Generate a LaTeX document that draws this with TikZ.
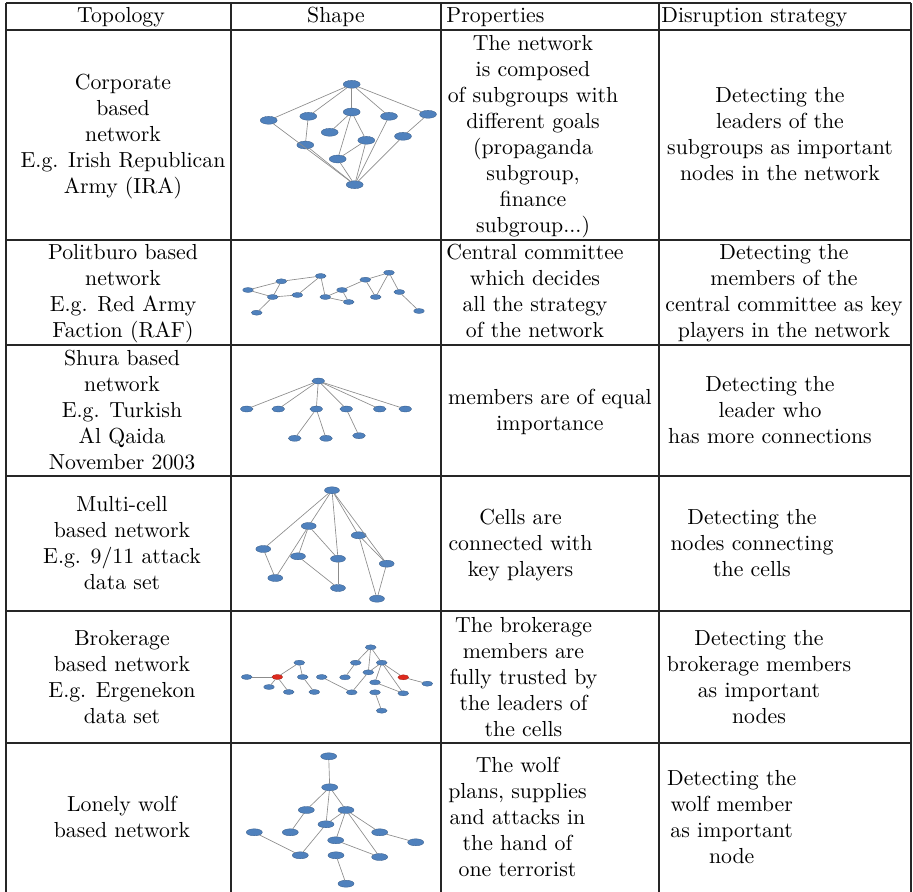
\documentclass[tikz,border=0pt]{standalone}
\usetikzlibrary{shapes.geometric}
\definecolor{nblue}{RGB}{79,129,189}
\definecolor{nbord}{RGB}{56,93,138}
\definecolor{nred}{RGB}{222,42,30}
\definecolor{rbord}{RGB}{160,30,20}
\begin{document}
\begin{tikzpicture}[x=0.4545pt,y=-0.4545pt,
  tline/.style={line width=0.5pt, draw=black!85},
  edge/.style={draw=black!45, line width=0.3pt},
  nd/.style={ellipse, fill=nblue, draw=nbord, line width=0.15pt, inner sep=0pt, outer sep=0pt},
  rd/.style={fill=nred, draw=rbord},
  sa/.style={nd, minimum width=7.7pt, minimum height=3.6pt},
  sb/.style={nd, minimum width=4.9pt, minimum height=2.3pt},
  sc/.style={nd, minimum width=5.8pt, minimum height=2.7pt},
  sd/.style={nd, minimum width=6.8pt, minimum height=3.2pt},
  se/.style={nd, minimum width=7.3pt, minimum height=3.2pt},
  txt/.style={align=center, font=\fontsize{9.9}{11.85}\selectfont, inner sep=0pt},
  hdr/.style={font=\fontsize{9.9}{11.85}\selectfont, inner sep=0pt}]
\useasboundingbox (0,0) rectangle (913,892);
% table rules
\foreach \yy in {3,30,240,345,476,611,743} \draw[tline] (6,\yy) -- (911,\yy);
\foreach \xx in {6,231,441,659,911} \draw[tline] (\xx,3) -- (\xx,892);
% header
\node[hdr, anchor=base] (h1) at (121,22) {Topology};
\node[hdr, anchor=base] (h2) at (336,22) {Shape};
\node[hdr, anchor=base west] (h3) at (446,22) {Properties};
\node[hdr, anchor=base west] (h4) at (661,22) {Disruption strategy};
% row 1
\node[txt] (t11) at (123,136.5) {\strut Corporate\\based\\network\\E.g. Irish Republican\\Army (IRA)\strut};
\node[txt] (t13) at (533,136.5) {\strut The network\\is composed\\of subgroups with\\different goals\\(propaganda\\subgroup,\\finance\\subgroup...)\strut};
\node[txt] (t14) at (780,136.5) {\strut Detecting the\\leaders of the\\subgroups as important\\nodes in the network\strut};
% row 2
\node[txt] (t21) at (123,293.5) {\strut Politburo based\\network\\E.g. Red Army\\Faction (RAF)\strut};
\node[txt] (t23) at (535,293.5) {\strut Central committee\\which decides\\all the strategy\\of the network\strut};
\node[txt] (t24) at (784,293.5) {\strut Detecting the\\members of the\\central committee as key\\players in the network\strut};
% row 3
\node[txt] (t31) at (122,412.5) {\strut Shura based\\network\\E.g. Turkish\\Al Qaida\\November 2003\strut};
\node[txt] (t33) at (550,412.5) {\strut members are of equal\\importance\strut};
\node[txt] (t34) at (770,412.5) {\strut Detecting the\\leader who\\has more connections\strut};
% row 4
\node[txt] (t41) at (122,545.5) {\strut Multi-cell\\based network\\E.g. 9/11 attack\\data set\strut};
\node[txt] (t43) at (520.5,545.5) {\strut Cells are\\connected with\\key players\strut};
\node[txt] (t44) at (752,545.5) {\strut Detecting the\\nodes connecting\\the cells\strut};
% row 5
\node[txt] (t51) at (122,679.5) {\strut Brokerage\\based network\\E.g. Ergenekon\\data set\strut};
\node[txt] (t53) at (523.5,679.5) {\strut The brokerage\\members are\\fully trusted by\\the leaders of\\the cells\strut};
\node[txt] (t54) at (759,679.5) {\strut Detecting the\\brokerage members\\as important\\nodes\strut};
% row 6
\node[txt] (t61) at (122,819.5) {\strut Lonely wolf\\based network\strut};
\node[txt] (t63) at (517.5,819.5) {\strut The wolf\\plans, supplies\\and attacks in\\the hand of\\one terrorist\strut};
\node[txt] (t64) at (731.7,819.5) {\strut Detecting the\\wolf member\\as important\\node\strut};

% graph 1
\node[sa] (g1a) at (351.7,84.3) {};
\node[sa] (g1b) at (268.7,120.3) {};
\node[sa] (g1c) at (308.3,116.3) {};
\node[sa] (g1d) at (351.7,112) {};
\node[sa] (g1e) at (389,116.3) {};
\node[sa] (g1f) at (428,114.3) {};
\node[sa] (g1g) at (329.7,132.3) {};
\node[sa] (g1h) at (305.3,145) {};
\node[sa] (g1i) at (366.3,140.3) {};
\node[sa] (g1j) at (403,136.3) {};
\node[sa] (g1k) at (337.7,159) {};
\node[sa] (g1l) at (354.7,184.7) {};
\foreach \u/\v in {a/b,a/c,a/d,a/e,a/f,b/l,c/h,h/l,d/g,d/k,d/i,i/k,i/l,k/l,e/l,j/l,f/j}
  \draw[edge] (g1\u) -- (g1\v);

% graph 2
\node[sb] (g2a) at (248,290) {};
\node[sb] (g2b) at (281.3,281.3) {};
\node[sb] (g2c) at (272.7,297) {};
\node[sb] (g2d) at (297.3,295) {};
\node[sb] (g2e) at (256.7,312.7) {};
\node[sb] (g2f) at (320.7,276) {};
\node[sb] (g2g) at (325.3,297) {};
\node[sb] (g2h) at (342,290) {};
\node[sb] (g2i) at (348.7,302) {};
\node[sb] (g2j) at (365.3,279.7) {};
\node[sb] (g2k) at (375.7,297) {};
\node[sb] (g2l) at (389,272.7) {};
\node[sb] (g2m) at (399.3,292) {};
\node[sb] (g2n) at (419,311) {};
\foreach \u/\v in {a/b,a/c,b/c,c/d,c/e,b/f,d/f,f/g,g/h,g/i,h/i,h/j,j/l,j/k,k/l,l/m,m/n}
  \draw[edge] (g2\u) -- (g2\v);

% graph 3
\node[sc] (g3t) at (318.3,381) {};
\node[sc] (g3a) at (246.7,409) {};
\node[sc] (g3b) at (278.3,409) {};
\node[sc] (g3c) at (316.3,409) {};
\node[sc] (g3d) at (346.3,409) {};
\node[sc] (g3e) at (379.7,409) {};
\node[sc] (g3f) at (405.3,409) {};
\node[sc] (g3g) at (294.7,438.3) {};
\node[sc] (g3h) at (326,438.3) {};
\node[sc] (g3i) at (359,435.7) {};
\foreach \u/\v in {t/a,t/b,t/c,t/d,t/e,t/f,c/g,c/h,d/i}
  \draw[edge] (g3\u) -- (g3\v);

% graph 4
\node[sd] (g4t) at (332,490.3) {};
\node[sd] (g4a) at (308.7,526) {};
\node[sd] (g4b) at (263.3,549) {};
\node[sd] (g4c) at (298,556.3) {};
\node[sd] (g4d) at (338,558.7) {};
\node[sd] (g4e) at (358.7,535.3) {};
\node[sd] (g4f) at (386.7,563.7) {};
\node[sd] (g4g) at (275.3,578) {};
\node[sd] (g4h) at (338,588) {};
\node[sd] (g4i) at (377,598.7) {};
\foreach \u/\v in {t/b,t/a,t/d,t/e,t/f,b/g,a/g,a/c,a/d,c/h,d/h,e/f,e/i,f/i}
  \draw[edge] (g4\u) -- (g4\v);

% graph 5
\node[sb] (g5a) at (246.7,677) {};
\node[sb,rd] (g5r) at (277.3,677) {};
\node[sb] (g5b) at (269,687) {};
\node[sb] (g5c) at (288.7,692) {};
\node[sb] (g5d) at (299.3,662.7) {};
\node[sb] (g5e) at (302.7,677) {};
\node[sb] (g5f) at (314.3,692) {};
\node[sb] (g5g) at (321.7,677) {};
\node[sb] (g5h) at (345,677.3) {};
\node[sb] (g5i) at (351.7,692.3) {};
\node[sb] (g5j) at (355.7,662.7) {};
\node[sb] (g5k) at (370.7,647.3) {};
\node[sb] (g5l) at (368.3,672.3) {};
\node[sb] (g5m) at (381.7,662.7) {};
\node[sb,rd] (g5s) at (403.3,677.3) {};
\node[sb] (g5n) at (375,682.3) {};
\node[sb] (g5o) at (375,692.3) {};
\node[sb] (g5p) at (403.3,693.3) {};
\node[sb] (g5q) at (427.3,683.7) {};
\node[sb] (g5u) at (381.7,710.7) {};
\foreach \u/\v in {a/r,r/d,r/b,r/c,d/e,e/f,g/i,i/l,h/j,j/k,k/l,k/m,l/m,m/s,m/n,m/p,n/p,s/q,o/u}
  \draw[edge] (g5\u) -- (g5\v);

% graph 6
\node[se] (g6t) at (328.7,756.3) {};
\node[se] (g6a) at (329.7,787.3) {};
\node[se] (g6b) at (306.3,810) {};
\node[se] (g6c) at (346,810) {};
\node[se] (g6d) at (326,824.3) {};
\node[se] (g6e) at (254.3,832.3) {};
\node[se] (g6f) at (290.3,832.3) {};
\node[se] (g6g) at (379.7,832.3) {};
\node[se] (g6h) at (335.7,840.3) {};
\node[se] (g6i) at (415.7,842.3) {};
\node[se] (g6j) at (300.3,855.3) {};
\node[se] (g6k) at (336,855.3) {};
\node[se] (g6l) at (379.7,857) {};
\node[se] (g6m) at (346,883.7) {};
\foreach \u/\v in {t/a,a/b,a/d,a/c,b/f,c/d,c/h,c/g,c/l,d/j,e/j,g/i,h/l,k/m}
  \draw[edge] (g6\u) -- (g6\v);
\end{tikzpicture}
\end{document}
